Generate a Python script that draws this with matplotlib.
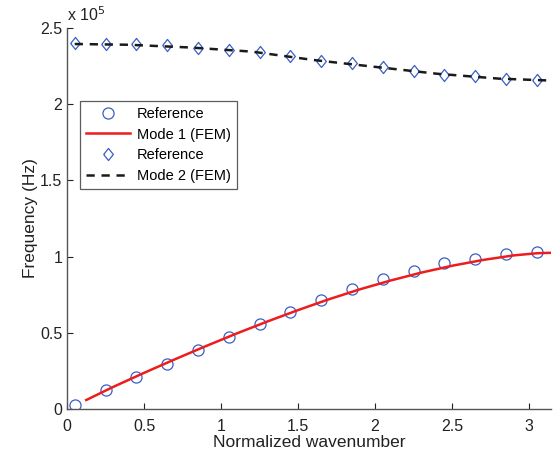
import numpy as np
import matplotlib.pyplot as plt
from matplotlib.ticker import FuncFormatter

plt.rcParams['font.family'] = ['Liberation Sans', 'DejaVu Sans']

# reference points (Hz)
k_ref = [0.05, 0.25, 0.45, 0.65, 0.85, 1.05, 1.25, 1.45,
         1.65, 1.85, 2.05, 2.25, 2.45, 2.65, 2.85, 3.05]
f1_ref = [0.026, 0.125, 0.21, 0.295, 0.387, 0.472, 0.558, 0.636,
          0.715, 0.787, 0.853, 0.906, 0.958, 0.984, 1.017, 1.03]
f2_ref = [2.40, 2.398, 2.393, 2.388, 2.371, 2.356, 2.343, 2.316,
          2.283, 2.268, 2.242, 2.22, 2.192, 2.183, 2.165, 2.157]

# FEM curves
k1_fem = [0.125, 0.3, 0.5, 0.7, 0.9, 1.1, 1.3, 1.5, 1.7, 1.9,
          2.1, 2.3, 2.5, 2.7, 2.9, 3.05, 3.1416]
f1_fem = [0.059, 0.145, 0.237, 0.326, 0.412, 0.495, 0.574, 0.649, 0.72, 0.785,
          0.843, 0.895, 0.94, 0.978, 1.008, 1.022, 1.025]
k2_fem = [0.05, 0.4, 0.8, 1.2, 1.6, 2.0, 2.4, 2.8, 3.1416]
f2_fem = [2.395, 2.39, 2.372, 2.345, 2.29, 2.245, 2.2, 2.168, 2.155]

scale = 1e5
blue = '#3a5fc4'
diamond = [(-0.8, 0), (0, 1), (0.8, 0), (0, -1), (-0.8, 0)]

fig = plt.figure(figsize=(5.53, 4.54), dpi=100)
ax = fig.add_axes([67/553, 45/454, 484/553, 381/454])

ax.plot(k_ref, np.array(f1_ref)*scale, 'o', mfc='none', mec=blue, ms=8, mew=0.9, label='Reference')
ax.plot(k1_fem, np.array(f1_fem)*scale, '-', color='#ee1c1c', lw=1.8, label='Mode 1 (FEM)')
ax.plot(k_ref, np.array(f2_ref)*scale, ls='none', marker=diamond, mfc='none', mec=blue, ms=8.7, mew=0.9, label='Reference')
ax.plot(k2_fem, np.array(f2_fem)*scale, '--', color='#1a1a1a', lw=1.8, dashes=(3.3, 2.7), label='Mode 2 (FEM)')

ax.set_xlim(0, np.pi)
ax.set_ylim(0, 2.5e5)
ax.set_xticks([0, 0.5, 1, 1.5, 2, 2.5, 3])
ax.set_xticklabels(['0', '0.5', '1', '1.5', '2', '2.5', '3'])
ax.set_yticks([0, 0.5e5, 1e5, 1.5e5, 2e5, 2.5e5])
ax.yaxis.set_major_formatter(FuncFormatter(lambda v, p: '%g' % (v/scale)))
ax.tick_params(direction='in', length=4, labelsize=11.5, colors='#222222')
ax.tick_params(axis='x', pad=7)
for s in ['top', 'right']:
    ax.spines[s].set_visible(False)
for s in ['left', 'bottom']:
    ax.spines[s].set_color('#555555')
    ax.spines[s].set_linewidth(1.0)

ax.text(0, 1.01, r'x 10$^5$', transform=ax.transAxes, fontsize=11.5, color='#222222', va='bottom', ha='left')
ax.set_xlabel('Normalized wavenumber', fontsize=12.5, color='#222222', labelpad=1)
ax.set_ylabel('Frequency (Hz)', fontsize=12.5, color='#222222', labelpad=1)

leg = ax.legend(loc='upper left', bbox_to_anchor=(0.027, 0.808), fontsize=10.5, frameon=True,
                fancybox=False, edgecolor='#333333', handlelength=3.0, borderpad=0.4,
                labelspacing=0.45, handletextpad=0.5, borderaxespad=0)
leg.get_frame().set_linewidth(0.9)

fig.savefig('out.png', dpi=100)
